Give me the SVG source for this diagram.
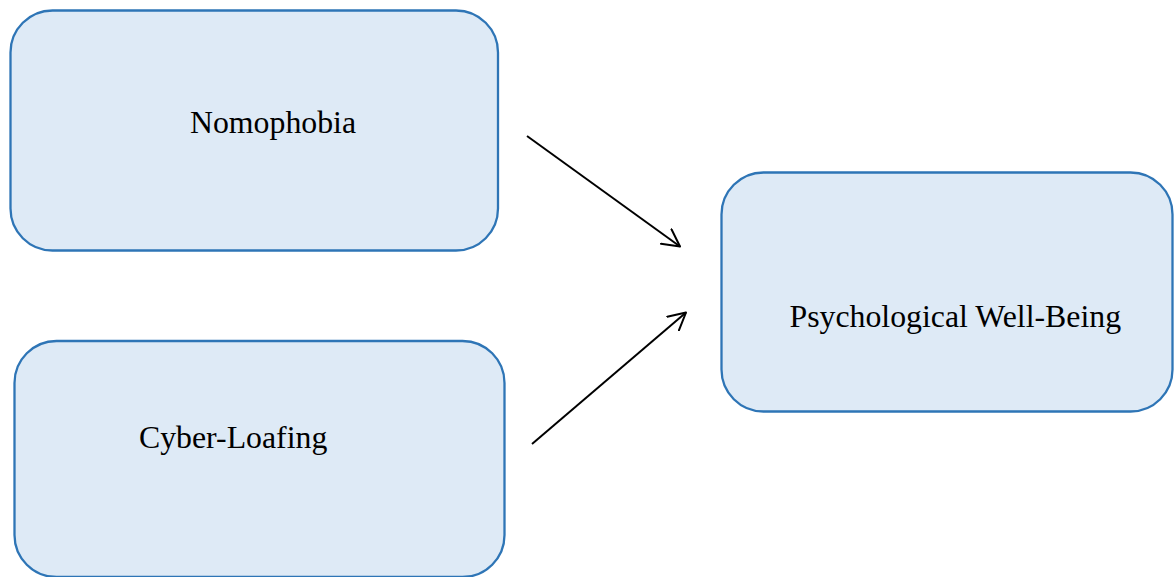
<svg xmlns="http://www.w3.org/2000/svg" width="1174" height="577" viewBox="0 0 1174 577">
<style>
.box{fill:#DEEAF6;stroke:#2E75B6;stroke-width:2.3}
.lbl{font-family:"Liberation Serif","Times New Roman",serif;font-size:31.8px;fill:#000}
.conn{stroke:#000;stroke-width:2;fill:none}
</style>
<defs>
<marker id="open" viewBox="0 0 20 20" refX="18" refY="10" markerWidth="20" markerHeight="20" markerUnits="userSpaceOnUse" orient="auto">
<path d="M1,1 L18,10 L1,19" fill="none" stroke="#000" stroke-width="2" stroke-linejoin="round" stroke-linecap="round"/>
</marker>
</defs>
<rect width="1174" height="577" fill="#fff"/>
<g id="nomophobia">
<rect class="box" x="10.5" y="10.5" width="487.5" height="240" rx="42" ry="42"/>
<text class="lbl" x="190" y="133">Nomophobia</text>
</g>
<g id="cyberloafing">
<rect class="box" x="14.5" y="341" width="490" height="236" rx="42" ry="42"/>
<text class="lbl" x="139" y="448">Cyber-Loafing</text>
</g>
<g id="wellbeing">
<rect class="box" x="721.5" y="172.5" width="451" height="239" rx="42" ry="42"/>
<text class="lbl" x="789.5" y="327">Psychological Well-Being</text>
</g>
<g id="connectors">
<line class="conn" x1="527" y1="136" x2="680" y2="246.5" marker-end="url(#open)"/>
<line class="conn" x1="532" y1="444" x2="686" y2="312.5" marker-end="url(#open)"/>
</g>
</svg>
